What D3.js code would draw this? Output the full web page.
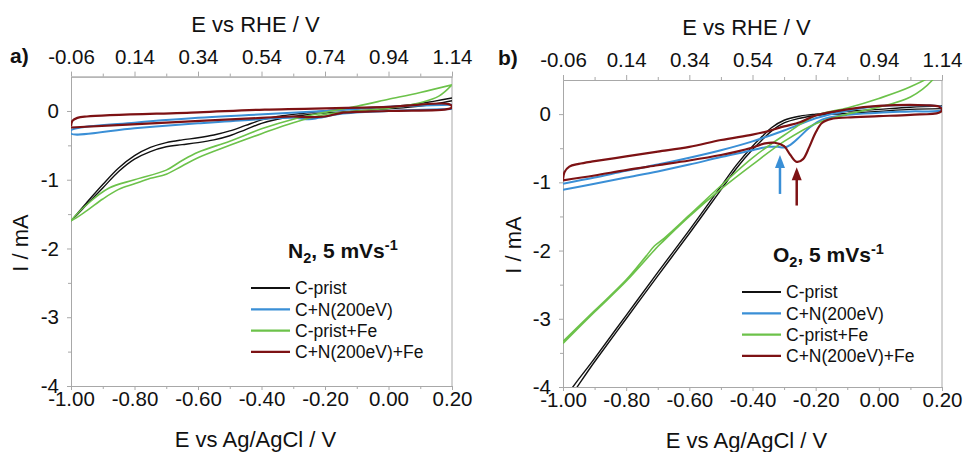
<!DOCTYPE html>
<html>
<head>
<meta charset="utf-8">
<title>CV N2 / O2</title>
<script src="https://d3js.org/d3.v7.min.js"></script>
<style>
  body { margin: 0; background: #fff; }
  svg { font-family: "Liberation Sans", Arial, sans-serif; }
</style>
</head>
<body>
<div id="chart"></div>
<script>

// tick values
var eTicks = [-1.0, -0.8, -0.6, -0.4, -0.2, 0.0, 0.2];
var eMinor = [-0.9, -0.7, -0.5, -0.3, -0.1, 0.1];
var rheTicks = [-0.06, 0.14, 0.34, 0.54, 0.74, 0.94, 1.14];
var rheMinor = [0.04, 0.24, 0.44, 0.64, 0.84, 1.04];
var iTicks = [0, -1, -2, -3, -4];
var iMinor = [-0.5, -1.5, -2.5, -3.5];

var seriesNames = ["C-prist", "C+N(200eV)", "C-prist+Fe", "C+N(200eV)+Fe"];

// a) N2, each CV is one closed loop of [E vs Ag/AgCl, I mA]
var n2Prist = [[0.2,0.19],[0.1,0.11],[0.0,0.06],[-0.1,0.03],[-0.2,0.0],[-0.3,-0.05],[-0.35,-0.08],[-0.4,-0.13],
  [-0.45,-0.21],[-0.5,-0.29],[-0.55,-0.35],[-0.6,-0.39],[-0.65,-0.42],[-0.7,-0.46],[-0.75,-0.53],[-0.8,-0.65],
  [-0.85,-0.83],[-0.9,-1.07],[-0.95,-1.33],[-1.0,-1.6],[-0.95,-1.36],[-0.9,-1.12],[-0.85,-0.88],[-0.8,-0.7],
  [-0.75,-0.59],[-0.7,-0.52],[-0.65,-0.49],[-0.6,-0.46],[-0.55,-0.42],[-0.5,-0.36],[-0.45,-0.27],[-0.4,-0.18],
  [-0.35,-0.12],[-0.3,-0.08],[-0.2,-0.03],[-0.1,0.0],[0.0,0.03],[0.1,0.07],[0.2,0.15]];
var n2N200 = [[0.2,0.09],[0.0,0.06],[-0.2,0.0],[-0.44,-0.06],[-0.6,-0.1],[-0.8,-0.17],[-0.97,-0.24],[-1.0,-0.28],
  [-1.0,-0.33],[-0.8,-0.25],[-0.6,-0.18],[-0.44,-0.13],[-0.3,-0.1],[-0.25,-0.12],[-0.22,-0.1],[-0.15,-0.04],
  [0.0,0.0],[0.2,0.03]];
var n2PristFe = [[0.2,0.38],[0.1,0.27],[0.0,0.17],[-0.1,0.07],[-0.2,-0.02],[-0.3,-0.12],[-0.4,-0.26],[-0.5,-0.44],
  [-0.6,-0.6],[-0.65,-0.72],[-0.7,-0.86],[-0.8,-1.0],[-0.88,-1.12],[-0.95,-1.36],[-1.0,-1.6],[-0.95,-1.45],
  [-0.9,-1.28],[-0.85,-1.14],[-0.8,-1.06],[-0.75,-0.98],[-0.7,-0.92],[-0.65,-0.8],[-0.6,-0.68],[-0.5,-0.5],
  [-0.4,-0.33],[-0.3,-0.17],[-0.2,-0.05],[-0.1,0.0],[0.0,0.04],[0.1,0.12],[0.16,0.22],[0.2,0.38]];
var n2N200Fe = [[-1.0,-0.24],[-0.7,-0.17],[-0.4,-0.1],[-0.3,-0.08],[-0.25,-0.09],[-0.2,-0.08],[-0.15,-0.03],
  [0.0,0.0],[0.19,0.03],[0.2,0.06],[0.19,0.1],[0.0,0.06],[-0.39,0.02],[-0.6,-0.02],[-0.95,-0.08],[-0.98,-0.1],
  [-0.995,-0.14],[-1.0,-0.22]];

// b) O2
var o2Prist = [[0.2,0.12],[0.1,0.1],[0.0,0.07],[-0.1,0.04],[-0.2,0.0],[-0.25,-0.03],[-0.3,-0.09],[-0.34,-0.2],
  [-0.37,-0.33],[-0.4,-0.47],[-0.45,-0.74],[-0.5,-1.06],[-0.6,-1.7],[-0.7,-2.32],[-0.8,-2.95],[-0.9,-3.58],
  [-1.0,-4.22],[-1.0,-4.27],[-0.9,-3.63],[-0.8,-3.0],[-0.7,-2.37],[-0.6,-1.75],[-0.5,-1.11],[-0.45,-0.79],
  [-0.4,-0.52],[-0.37,-0.38],[-0.34,-0.25],[-0.3,-0.13],[-0.25,-0.06],[-0.2,-0.02],[-0.1,0.01],[0.0,0.04],
  [0.1,0.07],[0.2,0.08]];
var o2N200 = [[-1.0,-1.11],[-0.9,-1.02],[-0.8,-0.93],[-0.7,-0.84],[-0.6,-0.74],[-0.5,-0.63],[-0.4,-0.53],
  [-0.35,-0.48],[-0.32,-0.48],[-0.3,-0.49],[-0.28,-0.45],[-0.25,-0.33],[-0.22,-0.2],[-0.18,-0.08],[-0.1,-0.01],
  [0.0,0.02],[0.1,0.04],[0.2,0.06],[0.2,0.1],[0.1,0.13],[0.0,0.12],[-0.1,0.05],[-0.2,-0.06],[-0.3,-0.24],
  [-0.4,-0.4],[-0.5,-0.53],[-0.6,-0.64],[-0.7,-0.74],[-0.8,-0.83],[-0.9,-0.93],[-1.0,-1.02]];
var o2PristFe = [[-1.0,-3.33],[-0.9,-2.88],[-0.8,-2.43],[-0.74,-2.1],[-0.71,-1.93],[-0.68,-1.82],[-0.6,-1.48],
  [-0.5,-1.05],[-0.4,-0.64],[-0.3,-0.31],[-0.2,-0.02],[-0.1,0.09],[0.0,0.23],[0.1,0.4],[0.2,0.66],
  [0.2,0.72],[0.17,0.5],[0.1,0.25],[0.0,0.1],[-0.1,0.0],[-0.2,-0.14],[-0.3,-0.4],[-0.4,-0.74],[-0.5,-1.1],
  [-0.6,-1.5],[-0.68,-1.85],[-0.7,-1.94],[-0.8,-2.45],[-0.9,-2.9],[-1.0,-3.36]];
var o2N200Fe = [[-1.0,-0.97],[-0.9,-0.9],[-0.8,-0.82],[-0.7,-0.75],[-0.6,-0.68],[-0.5,-0.6],[-0.45,-0.55],
  [-0.4,-0.49],[-0.36,-0.43],[-0.33,-0.42],[-0.3,-0.47],[-0.28,-0.6],[-0.26,-0.7],[-0.24,-0.66],[-0.22,-0.48],
  [-0.2,-0.27],[-0.18,-0.13],[-0.15,-0.07],[-0.1,-0.05],[0.0,-0.03],[0.1,-0.01],[0.19,0.02],[0.2,0.06],
  [0.19,0.11],[0.15,0.13],[0.0,0.12],[-0.1,0.07],[-0.2,-0.02],[-0.25,-0.12],[-0.3,-0.18],[-0.35,-0.25],
  [-0.4,-0.3],[-0.5,-0.38],[-0.6,-0.48],[-0.7,-0.55],[-0.8,-0.62],[-0.9,-0.69],[-0.95,-0.73],[-0.98,-0.77],
  [-0.995,-0.85],[-1.0,-0.97]];

// arrows in panel b: E position, tail current, head current
var o2ArrowE = [-0.313, -0.26];
var o2ArrowTail = [-1.17, -1.34];
var o2ArrowHead = [-0.6, -0.78];

var color = d3.scaleOrdinal()
  .domain(seriesNames)
  .range(["#111111", "#3a8fd6", "#6cc24a", "#7d1214"]);
var lineWidth = {"C-prist": 1.4, "C+N(200eV)": 2, "C-prist+Fe": 1.6, "C+N(200eV)+Fe": 2.2};

var svg = d3.select("#chart")
  .append("svg")
    .attr("width", 964)
    .attr("height", 452);

var panels = [
  {id: "a", left: 71, right: 452, top: 76.6, bottom: 386, tag: "a)", tagX: 10, tagY: 63,
   ylabX: 20, ylabY: 243, topTitleY: 32, botTitleY: 447,
   gas: "N", gasX: 288, gasY: 258, legX: 251, legY: 288,
   curves: [n2Prist, n2N200, n2PristFe, n2N200Fe]},
  {id: "b", left: 563, right: 942, top: 80, bottom: 387, tag: "b)", tagX: 498, tagY: 65,
   ylabX: 513, ylabY: 245, topTitleY: 35, botTitleY: 448,
   gas: "O", gasX: 773, gasY: 262, legX: 742, legY: 292,
   curves: [o2Prist, o2N200, o2PristFe, o2N200Fe]}
];

var axisGrey = "#a8a8a8";

function styleAxis(g) {
  g.attr("font-size", 20.5).attr("font-family", "Liberation Sans, Arial, sans-serif");
  g.selectAll(".domain").attr("stroke", axisGrey);
  g.selectAll(".tick line").attr("stroke", axisGrey);
  g.selectAll(".tick text").attr("fill", "#111");
}

panels.forEach(function(p) {
  var x = d3.scaleLinear().domain([-1.0, 0.2]).range([p.left, p.right]);
  var x2 = d3.scaleLinear().domain([-0.06, 1.14]).range([p.left, p.right]);
  var y = d3.scaleLinear().domain([-4, 0.5]).range([p.bottom, p.top]);

  svg.append("clipPath").attr("id", "clip" + p.id)
    .append("rect")
      .attr("x", p.left).attr("y", p.top)
      .attr("width", p.right - p.left).attr("height", p.bottom - p.top);

  // axes
  svg.append("g").attr("transform", "translate(0," + p.bottom + ")")
    .call(d3.axisBottom(x).tickValues(eTicks).tickFormat(function(d){ return d.toFixed(2); })
      .tickSize(4).tickSizeOuter(0).tickPadding(1))
    .call(styleAxis);
  svg.append("g").attr("transform", "translate(0," + p.bottom + ")")
    .call(d3.axisBottom(x).tickValues(eMinor).tickFormat("").tickSize(3).tickSizeOuter(0))
    .call(styleAxis);
  svg.append("g").attr("transform", "translate(0," + p.top + ")")
    .call(d3.axisTop(x2).tickValues(rheTicks).tickFormat(function(d){ return d.toFixed(2); })
      .tickSize(5).tickSizeOuter(0).tickPadding(8))
    .call(styleAxis);
  svg.append("g").attr("transform", "translate(0," + p.top + ")")
    .call(d3.axisTop(x2).tickValues(rheMinor).tickFormat("").tickSize(3).tickSizeOuter(0))
    .call(styleAxis);
  svg.append("g").attr("transform", "translate(" + p.left + ",0)")
    .call(d3.axisLeft(y).tickValues(iTicks).tickFormat(function(d){ return String(d); })
      .tickSize(4).tickSizeOuter(0).tickPadding(8))
    .call(styleAxis);
  svg.append("g").attr("transform", "translate(" + p.left + ",0)")
    .call(d3.axisLeft(y).tickValues(iMinor).tickFormat("").tickSize(3).tickSizeOuter(0))
    .call(styleAxis);
  // right frame
  svg.append("line")
    .attr("x1", p.right).attr("x2", p.right).attr("y1", p.top).attr("y2", p.bottom)
    .attr("stroke", axisGrey);

  // curves
  var line = d3.line()
    .x(function(d) { return x(d[0]); })
    .y(function(d) { return y(d[1]); })
    .curve(d3.curveCatmullRom.alpha(0.5));

  svg.append("g").attr("clip-path", "url(#clip" + p.id + ")")
    .selectAll("path")
    .data(p.curves)
    .enter().append("path")
      .attr("d", line)
      .attr("fill", "none")
      .attr("stroke", function(d, i) { return color(seriesNames[i]); })
      .attr("stroke-width", function(d, i) { return lineWidth[seriesNames[i]]; })
      .attr("stroke-linejoin", "round");

  // axis titles
  var mid = (p.left + p.right) / 2 - 6;
  svg.append("text").attr("x", mid).attr("y", p.topTitleY).attr("text-anchor", "middle")
    .attr("font-size", 22).attr("fill", "#111").text("E vs RHE / V");
  svg.append("text").attr("x", mid).attr("y", p.botTitleY).attr("text-anchor", "middle")
    .attr("font-size", 22).attr("fill", "#111").text("E vs Ag/AgCl / V");
  svg.append("text")
    .attr("transform", "translate(" + p.ylabX + "," + p.ylabY + ") rotate(-90)")
    .attr("text-anchor", "middle").attr("dy", "0.35em")
    .attr("font-size", 22).attr("fill", "#111").text("I / mA");
  svg.append("text").attr("x", p.tagX).attr("y", p.tagY)
    .attr("font-size", 21).attr("font-weight", "bold").attr("fill", "#111").text(p.tag);

  // gas / scan rate label
  var t = svg.append("text").attr("x", p.gasX).attr("y", p.gasY)
    .attr("font-size", 21).attr("font-weight", "bold").attr("fill", "#111");
  t.append("tspan").text(p.gas);
  t.append("tspan").attr("font-size", 14.5).attr("dy", 5).text("2");
  t.append("tspan").attr("dy", -5).text(", 5 mVs");
  t.append("tspan").attr("font-size", 14.5).attr("dy", -8).text("-1");

  // legend
  var leg = svg.append("g").selectAll("g")
    .data(seriesNames)
    .enter().append("g")
      .attr("transform", function(d, i) { return "translate(" + p.legX + "," + (p.legY + i * 21.3) + ")"; });
  leg.append("line").attr("x1", 0).attr("x2", 39).attr("y1", 0).attr("y2", 0)
    .attr("stroke", function(d) { return color(d); }).attr("stroke-width", 2.2);
  leg.append("text").attr("x", 44).attr("dy", "0.36em")
    .attr("font-size", 17.5).attr("fill", "#111").text(function(d) { return d; });

  // arrows (panel b only)
  if (p.id === "b") {
    o2ArrowE.forEach(function(e, i) {
      var c = color(seriesNames[i === 0 ? 1 : 3]);
      var xe = x(e), yt = y(o2ArrowTail[i]), yh = y(o2ArrowHead[i]);
      svg.append("line").attr("x1", xe).attr("x2", xe).attr("y1", yt).attr("y2", yh + 10)
        .attr("stroke", c).attr("stroke-width", 2.5);
      svg.append("path")
        .attr("d", "M" + xe + "," + yh + "L" + (xe - 5) + "," + (yh + 13) + "L" + (xe + 5) + "," + (yh + 13) + "Z")
        .attr("fill", c);
    });
  }
});

</script>
</body>
</html>
